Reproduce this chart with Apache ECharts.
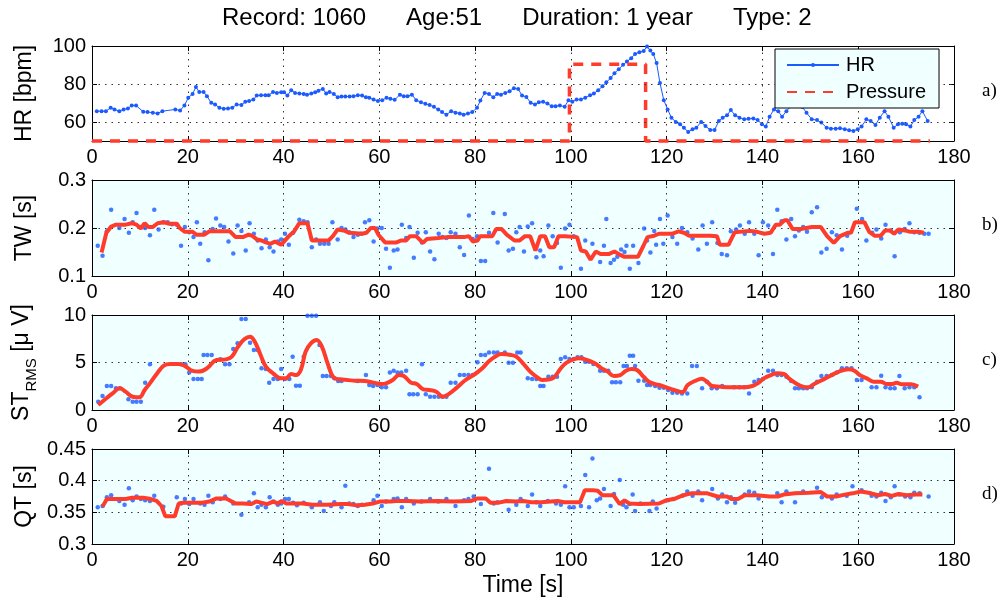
<!DOCTYPE html>
<html>
<head>
<meta charset="utf-8">
<title>Record 1060</title>
<script src="https://cdn.jsdelivr.net/npm/echarts@6/dist/echarts.min.js"></script>
<style>
  html, body { margin: 0; padding: 0; background: #fff; }
  #chart { width: 1000px; height: 605px; }
</style>
</head>
<body>
<div id="chart"></div>
<script>
// heart rate [t, bpm]
const hrPoints = [[1,65.7],[2,65.7],[2.9,65.7],[3.9,67.5],[4.7,66.6],[5.7,65.7],[6.6,66.6],[7.5,67.1],[8.3,68.7],[9.2,68.7],[10.7,65.4],[11.6,65.2],[12.7,64.9],[13.7,64.5],[14.7,65.7],[17.4,66.6],[18.4,66.1],[19.3,68.7],[20.1,72.7],[21,74.8],[21.7,78.4],[22.4,75.8],[23.3,75.8],[24,73.6],[24.9,70.1],[25.7,69.2],[26.6,67.5],[27.5,67],[28.4,67.1],[29.3,67.5],[30.2,69.2],[31.2,68.9],[32,70.6],[32.8,71],[33.7,71.8],[34.4,73.9],[35.3,74.1],[36.2,74.1],[36.9,74.1],[37.8,75.8],[38.6,75.3],[39.5,75.7],[40.1,75.7],[40.8,73.9],[41.6,76.7],[42.4,75.3],[43.3,75],[44.2,74.8],[44.9,74.3],[45.8,75],[46.6,75.7],[47.3,76.5],[48.2,77.4],[48.9,75],[49.6,75.8],[50.5,74.8],[51.3,73],[52.1,73.4],[52.9,73.4],[53.8,73.4],[54.6,73.6],[55.5,74.1],[56.4,73.9],[57.2,73],[57.9,72.7],[58.8,71.8],[59.7,71],[60.6,71.5],[61.5,72.7],[62.3,72.2],[63.2,71.7],[64.3,74.4],[65.1,73.6],[65.9,73.6],[66.8,74.4],[67.7,71.5],[68.7,70.4],[69.6,69.6],[70.5,68.9],[71.4,68],[72.3,66.6],[73.1,65.2],[74,63.8],[75,65.7],[75.9,64.9],[76.8,64.5],[77.6,63.8],[78.5,64.5],[79.4,65.2],[80.4,67.5],[81.1,71.3],[82,75.3],[82.9,74.8],[83.8,73],[84.6,74.8],[85.4,74.4],[86.3,75.3],[87.2,76.2],[88.1,77.7],[89,77.4],[89.8,73.9],[90.7,73.2],[91.6,70.1],[92.5,69.2],[93.3,70.4],[94.2,70.6],[95.1,69.7],[96,68.3],[96.8,68.3],[97.7,68.7],[98.7,68],[99.5,71.5],[100.3,70.6],[101.2,71.8],[102.1,71.8],[103,72.7],[104,74.1],[104.8,75],[105.7,76.7],[106.6,78.8],[107.4,80.9],[108.3,83.1],[109.1,85.7],[110,87.8],[110.9,90.1],[111.7,91.8],[112.6,93.6],[113.4,95.8],[114.3,96.7],[115.2,97.4],[115.9,99.7],[116.6,97.6],[117.2,95.8],[117.9,91],[118.6,80.5],[119.4,71.5],[120.2,66.6],[121,62.3],[121.9,60],[122.8,58.8],[123.6,57],[124.5,54.8],[125.4,56.2],[126.2,57],[127.2,60],[128.1,57.9],[129.1,55.8],[130,55.8],[130.9,60.5],[131.7,62.3],[132.6,63.5],[133.4,66.3],[134.3,63.5],[135.2,62.3],[136.2,61.4],[137.1,61.7],[138.1,61.9],[139,61],[139.9,58.8],[140.7,57.6],[141.5,62.8],[142.4,66.6],[143.3,65.7],[144.1,62.8],[145,65.7],[146.1,68.7],[147,70.5],[148.3,68],[149.2,64.9],[150.3,61.4],[151.4,61],[152.3,59.7],[153.4,57],[154.3,56.5],[155.3,56.5],[156.2,56.7],[157.2,56.2],[158.1,55.7],[159,55.3],[159.9,56.2],[160.7,57.6],[161.7,61.4],[162.6,60.5],[163.6,58.4],[164.5,62.3],[165.5,65.7],[166.3,62.8],[167.4,57],[168.3,58.8],[169.2,59.1],[170,58.8],[170.9,57.6],[171.7,61],[172.6,62.8],[173.4,65.7],[174.5,60.5]]

// pressure on / off
const pressurePoints = [[0,50],[99.7,50],[99.7,90.4],[115.6,90.4],[115.6,50],[175,50]]

// T-wave
const twPoints = [[1.2,0.163],[2.2,0.142],[3.1,0.193],[4,0.238],[5.7,0.2],[6.8,0.219],[7.7,0.19],[8.5,0.212],[9.3,0.231],[10.2,0.202],[11.1,0.2],[12.1,0.185],[13,0.238],[13.9,0.197],[14.9,0.212],[15.8,0.212],[16.7,0.208],[17.7,0.207],[18.6,0.163],[19.4,0.202],[20.3,0.191],[21.2,0.181],[21.9,0.212],[22.6,0.167],[23.5,0.191],[24.3,0.133],[25.2,0.198],[25.9,0.22],[26.8,0.205],[27.6,0.202],[28.5,0.172],[29.5,0.147],[30.4,0.205],[31.2,0.194],[32.1,0.153],[32.9,0.21],[33.8,0.188],[34.6,0.174],[35.4,0.158],[36.3,0.176],[37.1,0.16],[37.9,0.151],[38.8,0.172],[39.5,0.176],[40.3,0.188],[41.1,0.165],[42,0.19],[43.3,0.217],[44.2,0.214],[45,0.212],[45.9,0.16],[46.8,0.176],[47.6,0.167],[48.5,0.167],[49.4,0.167],[50.2,0.212],[51.3,0.176],[52.1,0.2],[52.9,0.197],[53.7,0.191],[54.6,0.181],[55.5,0.186],[56.2,0.188],[57,0.212],[57.9,0.216],[58.8,0.172],[59.6,0.199],[60.5,0.2],[61.4,0.157],[62.2,0.117],[63,0.153],[63.8,0.155],[64.7,0.207],[65.6,0.179],[66.3,0.202],[67.2,0.138],[68,0.19],[68.9,0.17],[69.7,0.191],[70.6,0.151],[71.5,0.135],[72.4,0.188],[73.2,0.181],[74,0.179],[74.9,0.191],[75.9,0.188],[76.8,0.16],[77.7,0.144],[78.7,0.226],[79.5,0.177],[80.4,0.183],[81.2,0.131],[82.1,0.131],[82.9,0.19],[83.8,0.231],[84.7,0.17],[86.2,0.229],[87,0.153],[87.9,0.157],[88.6,0.191],[89.3,0.202],[90.2,0.151],[91,0.203],[91.9,0.21],[92.8,0.139],[93.6,0.153],[94.3,0.141],[95.3,0.205],[96.2,0.183],[97.1,0.169],[97.9,0.117],[98.8,0.199],[99.7,0.207],[100.6,0.183],[102.1,0.115],[103,0.174],[104.5,0.167],[106.1,0.129],[106.9,0.163],[107.4,0.219],[108.3,0.127],[109,0.134],[109.7,0.14],[110.5,0.155],[111.2,0.15],[111.6,0.163],[112.3,0.115],[113,0.163],[114.1,0.127],[115.3,0.199],[115.9,0.174],[116.6,0.149],[117.4,0.194],[117.8,0.165],[118.6,0.219],[119.3,0.167],[120.2,0.226],[121.2,0.181],[122.2,0.167],[123.2,0.2],[124.3,0.191],[125.4,0.178],[126.6,0.155],[127.5,0.205],[128.4,0.167],[129.5,0.212],[130.6,0.169],[131.5,0.146],[132.6,0.143],[133.4,0.193],[134.5,0.197],[135.3,0.205],[136.3,0.188],[137.2,0.212],[138.3,0.188],[139.2,0.143],[140.1,0.212],[141.2,0.205],[142.2,0.146],[143.1,0.238],[144,0.214],[145,0.176],[146,0.219],[146.8,0.183],[147.6,0.195],[148.5,0.202],[149.3,0.192],[150.3,0.233],[151.4,0.243],[152.3,0.149],[153.4,0.157],[154.5,0.191],[155.5,0.185],[156.6,0.155],[157.7,0.184],[159.7,0.24],[160.8,0.219],[161.7,0.174],[162.9,0.19],[163.8,0.197],[164.8,0.178],[165.7,0.207],[166.8,0.195],[167.6,0.141],[168.7,0.191],[169.7,0.198],[170.7,0.21],[171.7,0.191],[172.8,0.19],[173.8,0.188],[174.7,0.188]]
const twTrend = [[2,0.149],[3,0.19],[4,0.203],[5,0.207],[7,0.207],[8.3,0.21],[9.3,0.207],[10.2,0.199],[11,0.21],[11.8,0.202],[12.7,0.202],[13.7,0.21],[15,0.212],[16,0.209],[17.7,0.209],[18.3,0.2],[19.4,0.192],[21,0.192],[21.8,0.186],[23.4,0.186],[24.5,0.193],[28.8,0.193],[30,0.181],[31.5,0.181],[32.7,0.186],[33.4,0.184],[34.5,0.176],[35.4,0.174],[36.3,0.17],[37.3,0.167],[38.2,0.172],[39.5,0.165],[41.1,0.183],[42.2,0.193],[43.3,0.21],[45,0.21],[45.9,0.174],[49.4,0.174],[50.3,0.183],[51.3,0.197],[52.8,0.194],[53.7,0.19],[56.4,0.188],[57.3,0.19],[58.2,0.2],[59.1,0.2],[59.8,0.186],[61.2,0.17],[63.6,0.17],[64.5,0.174],[65.6,0.174],[66.4,0.183],[67.7,0.183],[69.1,0.169],[69.9,0.177],[72.3,0.179],[74.2,0.181],[77.7,0.181],[78.7,0.183],[79.5,0.172],[80.5,0.174],[81,0.183],[83.6,0.183],[84.4,0.198],[85.5,0.198],[86.6,0.186],[88.2,0.174],[89.3,0.174],[90.4,0.183],[91.5,0.183],[92.6,0.153],[93.6,0.183],[94.6,0.183],[95.5,0.16],[96.5,0.16],[97.4,0.183],[98.8,0.183],[101.3,0.181],[102.1,0.153],[103.1,0.151],[104.1,0.134],[105.2,0.151],[106.2,0.146],[108,0.146],[109.1,0.151],[110.3,0.144],[111.2,0.14],[114,0.14],[115.1,0.162],[116,0.181],[117.4,0.184],[118.4,0.188],[121.1,0.188],[122.5,0.193],[123.6,0.19],[124.7,0.184],[129.1,0.184],[130.5,0.183],[131.1,0.165],[132.9,0.165],[134.2,0.191],[137.4,0.194],[138.9,0.192],[140.4,0.188],[141.7,0.19],[142.8,0.207],[143.6,0.207],[144.6,0.216],[145.2,0.216],[146.3,0.198],[148,0.198],[150.3,0.202],[152.2,0.202],[153.5,0.183],[154.9,0.169],[156.2,0.183],[157.8,0.19],[158.5,0.19],[159.3,0.212],[161.3,0.212],[162.3,0.192],[163.4,0.184],[164.7,0.184],[165.6,0.195],[166.6,0.195],[167.5,0.188],[168.4,0.197],[169.7,0.195],[170.9,0.192],[172.6,0.192],[173.7,0.19]]

// ST segment RMS
const stPoints = [[1.3,0.88],[2.2,1.47],[3.1,2.53],[4,2.53],[5,2.28],[5.8,2.28],[7.6,1.12],[8.5,0.88],[9.3,0.88],[10.2,0.88],[11.1,2.88],[12.1,4.81],[18.6,4.81],[19.5,4.81],[20.3,3.96],[21.2,3.26],[22.1,3.26],[22.9,3.26],[23.3,5.79],[24.1,5.79],[25,5.79],[26.8,5.33],[27.8,4.81],[28.7,4.81],[29.5,6.42],[30.4,7.02],[31.2,9.58],[32.1,9.58],[33,7.09],[33.8,6.32],[34.6,6.32],[35.4,4.39],[36.3,4.32],[37,2.88],[37.9,3.26],[38.8,3.26],[39.5,4.32],[40.3,3.26],[41.2,3.26],[41.9,5.61],[42.6,2.56],[43.4,2.56],[44.2,5.61],[45,9.93],[45.9,9.93],[46.8,9.93],[47.5,6.84],[48.2,3.58],[49,3.58],[49.9,3.58],[50.6,3.33],[51.4,3.05],[52.1,3.05],[55.5,3.05],[57.2,3.68],[57.9,2.63],[58.7,2.53],[59.6,2.63],[60.5,2.39],[61.4,2.39],[62.2,3.96],[63,4.14],[63.8,3.96],[64.6,3.96],[65.6,4.14],[66.3,1.65],[67.1,1.65],[68,1.65],[68.9,4.81],[69.7,1.65],[70.6,1.4],[71.5,1.4],[72.4,1.4],[73.2,1.4],[74,1.4],[74.9,2.88],[75.9,2.88],[76.8,3.68],[77.7,3.68],[78.6,3.68],[79.5,3.68],[80.5,5.02],[81.2,5.79],[82.1,5.79],[82.9,6.04],[83.9,6.04],[84.7,6.04],[86.2,6.04],[87,4.98],[87.9,4.98],[88.8,6.04],[89.5,6.04],[91,3.33],[91.9,3.26],[92.8,3.26],[93.6,2.53],[94.3,2.53],[95.3,3.51],[96.2,3.51],[97.1,3.51],[97.9,5.37],[98.8,5.54],[99.7,5.37],[100.6,5.37],[101.4,5.54],[102.2,5.54],[103,5.09],[103.8,5.09],[104.7,4.84],[106.1,4.14],[106.9,4.14],[107.8,4.14],[108.6,2.91],[109.4,2.91],[110.3,2.91],[111,4.63],[111.7,4.63],[112.3,5.72],[113,5.72],[113.4,4.63],[114.1,3.09],[115.3,3.09],[115.9,2.63],[116.6,2.63],[117.6,2.53],[118.5,2.35],[119.4,2.35],[120.3,2.11],[121.2,1.82],[122.2,1.82],[123.2,1.75],[124.3,1.75],[125.3,4.63],[126.3,4.63],[127.4,2.28],[128.4,2.98],[129.4,2.28],[130.5,2.28],[131.6,2.53],[134.1,2.39],[135.2,2.39],[136.2,2.39],[137.2,1.75],[138.3,2.98],[139.2,3.16],[140.1,3.26],[141.2,4.14],[142.2,4.14],[143.1,3.68],[144,3.68],[145,3.51],[146,3.05],[146.8,2.28],[147.6,2.28],[148.5,2.28],[149.3,2.28],[150.3,2.39],[151.4,2.98],[152.3,3.58],[153.4,3.58],[154.5,3.68],[155.5,3.96],[156.6,4.39],[157.6,4.39],[158.6,4.39],[159.7,3.16],[160.7,3.16],[162.8,2.39],[163.8,2.39],[164.8,3.61],[165.7,2.39],[166.7,2.28],[167.6,2.28],[168.6,3.58],[169.7,2.28],[170.7,2.39],[171.7,2.39],[172.8,1.33]]
const stTrend = [[1.3,0.53],[3,1.23],[4.3,1.75],[5.8,2.28],[7,1.93],[8.5,1.4],[9.9,1.33],[11,2.11],[12.2,2.88],[13.7,3.93],[15,4.67],[16.3,4.84],[18,4.84],[19.3,4.67],[21,4.11],[22.3,4.04],[24,4.39],[26,5.26],[28,5.33],[29.2,5.61],[30.5,6.67],[31.8,7.44],[33,7.72],[34,7.19],[35.2,5.79],[36.3,4.56],[37.8,3.86],[39.5,3.33],[40.5,3.33],[41.6,3.79],[42.6,3.68],[43.6,4.21],[44.6,6.14],[45.7,7.02],[46.9,7.37],[48,6.67],[49.2,4.91],[50.4,3.44],[51.7,3.23],[55,3.09],[57,3.05],[58.5,2.91],[60.5,2.74],[61.4,2.81],[62.8,3.16],[64.1,3.68],[65.1,3.58],[66.6,2.88],[67.8,2.74],[69.2,2.18],[70.4,2.11],[71.9,1.93],[73.2,1.4],[74.4,1.65],[76,2.28],[78,3.16],[80,3.79],[81.5,4.39],[83,5.19],[84.5,5.72],[85.5,5.89],[87.5,5.79],[88.6,5.61],[90,4.91],[91.5,4.04],[93,3.44],[94,3.16],[95.6,3.23],[96.5,3.44],[97.9,4.39],[99.1,4.98],[100.8,5.37],[101.6,5.44],[103,5.33],[105,4.91],[106.2,4.46],[107.7,4.04],[109,3.58],[110.3,3.68],[111.5,4.14],[112.7,4.32],[113.8,4.21],[115.3,3.44],[116.5,2.91],[118.4,2.63],[120.5,2.28],[122,2.04],[123.3,1.89],[124.4,2.63],[125.9,3.05],[127.3,3.3],[128.4,2.98],[129.5,2.53],[131,2.46],[133.4,2.39],[136.2,2.39],[137.9,2.53],[139,2.81],[140.3,3.33],[141.8,3.68],[143,3.86],[144.5,3.79],[145.5,3.33],[147.2,2.74],[148.4,2.46],[149.6,2.39],[150.8,2.74],[152.5,3.16],[154.2,3.61],[156,4.04],[157.9,4.28],[159.2,4.14],[160.3,3.68],[161.8,3.33],[163.2,2.98],[164.7,2.98],[166,2.74],[167.2,2.74],[168,2.88],[169.1,2.7],[171,2.7],[172.5,2.46]]

// QT interval
const qtPoints = [[1.2,0.358],[2.2,0.36],[3.1,0.374],[4,0.377],[5.7,0.368],[6.8,0.362],[7.7,0.388],[8.5,0.369],[9.3,0.375],[10.2,0.371],[11.1,0.369],[12.1,0.368],[13,0.376],[14.9,0.359],[17.7,0.374],[18.6,0.364],[19.4,0.371],[20.3,0.363],[21.2,0.371],[22.6,0.364],[23.5,0.362],[24.3,0.376],[25.2,0.366],[26.8,0.371],[27.8,0.375],[29.5,0.364],[31.2,0.346],[32.8,0.366],[33.8,0.38],[34.6,0.358],[35.4,0.362],[36.3,0.358],[37.1,0.374],[37.9,0.367],[38.8,0.362],[39.5,0.364],[40.3,0.371],[41.1,0.371],[42,0.365],[42.8,0.361],[44.2,0.365],[45.9,0.358],[47.6,0.366],[48.4,0.352],[49.9,0.36],[50.6,0.366],[52.1,0.358],[52.9,0.392],[53.7,0.364],[54.6,0.363],[55.5,0.36],[56.4,0.362],[58.8,0.369],[59.6,0.376],[60.5,0.36],[61.4,0.367],[63,0.371],[63.8,0.372],[64.7,0.358],[65.6,0.371],[67.2,0.364],[68.8,0.367],[70.6,0.371],[72.3,0.367],[74,0.371],[75.9,0.36],[77.7,0.369],[78.6,0.371],[79.7,0.375],[81.2,0.363],[82.9,0.419],[83.9,0.364],[84.7,0.366],[87,0.354],[88.6,0.362],[89.5,0.371],[91,0.36],[91.9,0.378],[92.8,0.366],[93.6,0.36],[95.2,0.368],[96.9,0.364],[97.9,0.362],[98.8,0.391],[99.7,0.358],[100.6,0.358],[102.1,0.36],[103,0.409],[103.8,0.358],[104.5,0.435],[105.4,0.369],[106.1,0.372],[106.9,0.387],[108.3,0.36],[109,0.379],[110.2,0.401],[110.9,0.362],[111.6,0.358],[112.3,0.363],[112.9,0.378],[113.4,0.352],[114.5,0.364],[116.4,0.352],[117.1,0.367],[117.9,0.356],[120.3,0.369],[121.4,0.371],[123.3,0.376],[124.3,0.383],[125.4,0.376],[126.6,0.383],[127.4,0.369],[129.5,0.387],[130.7,0.372],[131.6,0.378],[132.6,0.366],[133.4,0.374],[134.3,0.365],[136.3,0.378],[137.2,0.383],[138.3,0.381],[139.2,0.372],[143.1,0.38],[144,0.366],[145,0.383],[146.8,0.366],[148.5,0.383],[151.4,0.389],[152.4,0.374],[154.5,0.372],[155.5,0.378],[157.6,0.376],[158.8,0.391],[160.7,0.385],[162.8,0.376],[163.8,0.375],[164.8,0.381],[165.7,0.368],[166.8,0.374],[167.6,0.391],[168.6,0.378],[169.8,0.375],[170.9,0.374],[171.7,0.381],[172.8,0.38],[174.7,0.375]]
const qtTrend = [[2.2,0.359],[3.1,0.371],[7,0.371],[8.4,0.373],[10.7,0.373],[12.3,0.371],[13.5,0.368],[14.5,0.36],[15.3,0.344],[17.3,0.344],[18.1,0.364],[19,0.365],[23,0.365],[24.5,0.367],[26,0.372],[28,0.372],[30,0.364],[31.4,0.364],[33.3,0.363],[34.3,0.367],[35.5,0.365],[36.6,0.363],[37.8,0.367],[38.8,0.364],[39.6,0.368],[40.6,0.364],[44,0.364],[46,0.362],[49,0.362],[52,0.363],[53.4,0.363],[55.3,0.361],[57,0.362],[58.6,0.364],[60.1,0.367],[62.4,0.367],[63.4,0.368],[66,0.368],[68.4,0.367],[72,0.368],[75.4,0.367],[79.2,0.368],[80.5,0.372],[82.2,0.372],[83.2,0.365],[84.7,0.365],[86.5,0.368],[88.4,0.367],[90,0.368],[91.7,0.366],[93.8,0.366],[95.8,0.367],[97.2,0.368],[98.6,0.366],[101.9,0.366],[102.9,0.385],[104.6,0.385],[105.6,0.384],[106.6,0.377],[108.9,0.377],[110.2,0.363],[111.2,0.369],[112.2,0.364],[114.3,0.363],[118.4,0.364],[119.9,0.369],[121.5,0.371],[123.5,0.377],[125.1,0.38],[128.5,0.38],[130.6,0.375],[132.6,0.375],[133.5,0.371],[134.9,0.371],[136.3,0.377],[138.8,0.377],[141.5,0.375],[143.2,0.375],[144.4,0.378],[146.8,0.38],[149.8,0.381],[152.2,0.382],[153.5,0.375],[155.4,0.375],[157.2,0.378],[158.8,0.38],[160.6,0.383],[162.7,0.38],[164.1,0.377],[165.6,0.379],[167,0.376],[168.4,0.379],[170.1,0.377],[172,0.378],[173.4,0.378]]

const hrGridValues = [60, 80]
const hrTickValues = [60, 80, 100]
const panelTags = ['a)', 'b)', 'c)', 'd)']
const titleText = 'Record: 1060      Age:51      Duration: 1 year      Type: 2'

const font = 'Liberation Sans'
const blue = '#1a5aff'
const red = '#ff3b2b'
const dotted = [1.5, 5]

// panel boxes, in pixels
const panels = [
  { top: 46, height: 95, bg: '#ffffff', min: 50, max: 100, interval: 10, name: 'HR [bpm]' },
  { top: 180, height: 96, bg: '#f0ffff', min: 0.1, max: 0.3, interval: 0.1, name: 'TW [s]' },
  { top: 315, height: 95, bg: '#f0ffff', min: 0, max: 10, interval: 5, name: '{m|ST}{s|RMS}{m| [μ V]}' },
  { top: 449, height: 95, bg: '#f0ffff', min: 0.3, max: 0.45, interval: 0.05, name: 'QT [s]' }
]

const tickStyle = { inside: true, length: 5, lineStyle: { color: '#000', width: 1 } }
const lineStyle = { onZero: false, lineStyle: { color: '#000', width: 1 } }
const gridLine = { show: true, lineStyle: { color: '#333', type: dotted, width: 1 } }

var grid = [], xAxis = [], yAxis = [], title = []
panels.forEach(function(p, i) {
  grid.push({ left: 92, width: 862, top: p.top, height: p.height, show: true,
    backgroundColor: p.bg, borderWidth: 0 })
  var last = i === panels.length - 1
  xAxis.push({
    type: 'value', gridIndex: i, min: 0, max: 180, interval: 20,
    axisLine: lineStyle, axisTick: tickStyle, splitLine: gridLine,
    axisLabel: { color: '#000', fontSize: 20, fontFamily: font, margin: 6 },
    name: last ? 'Time [s]' : '', nameLocation: 'middle', nameGap: 30,
    nameTextStyle: { color: '#000', fontSize: 23, fontFamily: font }
  })
  xAxis.push({
    type: 'value', gridIndex: i, min: 0, max: 180, interval: 20, position: 'top',
    axisLine: lineStyle, axisTick: tickStyle, splitLine: { show: false },
    axisLabel: { show: false }
  })
  var yLabel = { color: '#000', fontSize: 20, fontFamily: font, margin: 6 }
  var yTick = Object.assign({}, tickStyle)
  if (i === 0) {
    yLabel.customValues = hrTickValues
    yLabel.formatter = function(v) { return v % 20 === 0 ? String(v) : '' }
    yTick.customValues = hrTickValues
  }
  yAxis.push({
    type: 'value', gridIndex: i, min: p.min, max: p.max, interval: p.interval,
    axisLine: lineStyle, axisTick: yTick, axisLabel: yLabel,
    splitLine: i === 0 ? { show: false } : gridLine,
    name: p.name, nameLocation: 'middle', nameRotate: 90, nameGap: 56,
    nameTextStyle: {
      color: '#000', fontSize: 23, fontFamily: font,
      rich: {
        m: { fontSize: 23, fontFamily: font, color: '#000', lineHeight: 26, verticalAlign: 'top' },
        s: { fontSize: 15, fontFamily: font, color: '#000', lineHeight: 15, padding: [14, 0, 0, 0], verticalAlign: 'top' }
      }
    }
  })
  yAxis.push({
    type: 'value', gridIndex: i, min: p.min, max: p.max, interval: p.interval, position: 'right',
    axisLine: lineStyle, axisTick: yTick, axisLabel: { show: false }, splitLine: { show: false }
  })
  title.push({ text: panelTags[i], left: 982, top: p.top + p.height / 2 - 12, padding: 0,
    textStyle: { fontFamily: 'Liberation Serif', fontSize: 19, fontWeight: 'normal', color: '#000' } })
})
title.push({ text: titleText, left: 222, top: 6, padding: 0,
  textStyle: { fontFamily: font, fontSize: 24, fontWeight: 'normal', color: '#000' } })

function dots(name, i, data) {
  return { name: name, type: 'scatter', xAxisIndex: 2 * i, yAxisIndex: 2 * i, data: data,
    symbolSize: 4.5, itemStyle: { color: blue }, silent: true }
}
function trend(name, i, data, smooth) {
  return { name: name, type: 'line', xAxisIndex: 2 * i, yAxisIndex: 2 * i, data: data,
    symbol: 'none', smooth: smooth, lineStyle: { color: red, width: 4 }, z: 3, silent: true }
}

var option = {
  animation: false,
  backgroundColor: '#fff',
  title: title,
  grid: grid,
  xAxis: xAxis,
  yAxis: yAxis,
  legend: {
    data: [
      { name: 'HR' },
      { name: 'Pressure', itemStyle: { color: 'rgba(0,0,0,0)', borderWidth: 0, opacity: 0 } }
    ],
    orient: 'vertical', left: 775, top: 49, z: 10,
    backgroundColor: '#f0ffff', borderColor: '#000', borderWidth: 1,
    padding: [6, 13, 6, 11], itemWidth: 52, itemHeight: 5, itemGap: 7,
    textStyle: { fontFamily: font, fontSize: 20, color: '#000', padding: [0, 0, 0, 2] }
  },
  series: [
    { name: 'HR', type: 'line', xAxisIndex: 0, yAxisIndex: 0, data: hrPoints,
      symbol: 'circle', symbolSize: 4, showAllSymbol: true,
      lineStyle: { color: blue, width: 1 }, itemStyle: { color: blue },
      markLine: { silent: true, symbol: 'none', label: { show: false },
        lineStyle: { color: '#333', type: dotted, width: 1 },
        data: hrGridValues.map(function(v) { return { yAxis: v } }) } },
    { name: 'Pressure', type: 'line', xAxisIndex: 0, yAxisIndex: 0, data: pressurePoints,
      symbol: 'none', clip: false, z: 4,
      lineStyle: { color: red, width: 3.5, type: [10, 8] }, itemStyle: { color: red } },
    dots('TW', 1, twPoints),
    trend('TW trend', 1, twTrend, false),
    dots('ST', 2, stPoints),
    trend('ST trend', 2, stTrend, 0.4),
    dots('QT', 3, qtPoints),
    trend('QT trend', 3, qtTrend, false)
  ]
}

var myChart = echarts.init(document.getElementById('chart'))
myChart.setOption(option)
</script>
</body>
</html>
